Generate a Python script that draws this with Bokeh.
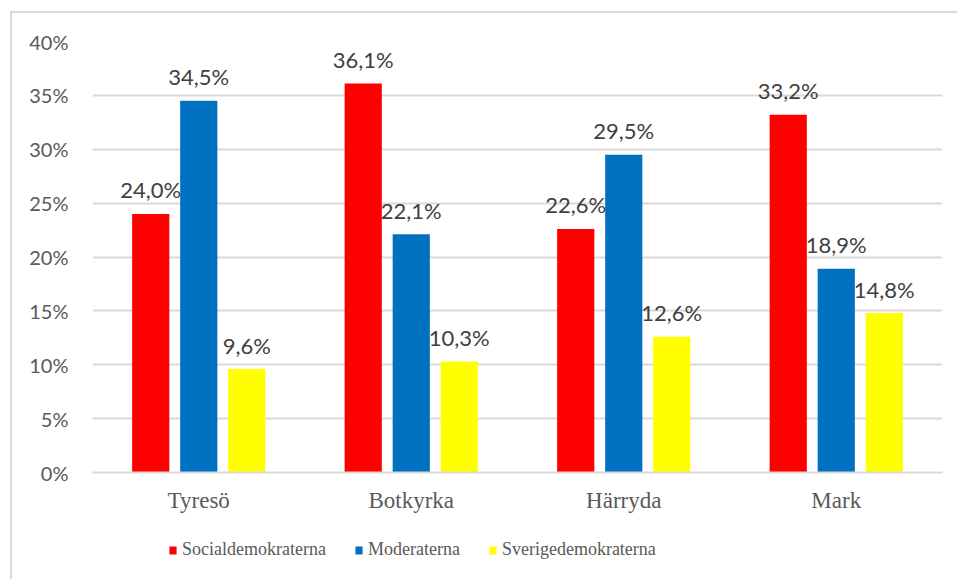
from bokeh.plotting import figure
from bokeh.layouts import column
from bokeh.models import ColumnDataSource, FactorRange, Range1d, FixedTicker, Legend, LegendItem, NumeralTickFormatter
from bokeh.transform import dodge
from bokeh.core.properties import value
from bokeh.embed import file_html
from bokeh.resources import INLINE

kommuner = ["Tyresö", "Botkyrka", "Härryda", "Mark"]
socialdemokraterna = [24.0, 36.1, 22.6, 33.2]
moderaterna = [34.5, 22.1, 29.5, 18.9]
sverigedemokraterna = [9.6, 10.3, 12.6, 14.8]
series_names = ["Socialdemokraterna", "Moderaterna", "Sverigedemokraterna"]
colors = ["#FF0000", "#0070C0", "#FFFF00"]
y_ticks = [0, 5, 10, 15, 20, 25, 30, 35, 40]

def fmt(v):
    return ("%.1f%%" % v).replace(".", ",")

src = ColumnDataSource(dict(
    x=kommuner,
    s=[v / 100 for v in socialdemokraterna],
    m=[v / 100 for v in moderaterna],
    d=[v / 100 for v in sverigedemokraterna],
    sl=[fmt(v) for v in socialdemokraterna],
    ml=[fmt(v) for v in moderaterna],
    dl=[fmt(v) for v in sverigedemokraterna],
))

p = figure(x_range=FactorRange(*kommuner, range_padding=0), y_range=Range1d(0, 0.40),
           width=945, height=507, output_backend="svg", toolbar_location=None,
           min_border_left=80, min_border_right=15, min_border_top=28, min_border_bottom=48)
p.outline_line_color = None
p.background_fill_color = "white"
p.border_fill_color = "white"

off = 0.226
w = 0.175
series = [("s", "sl", -off, colors[0]), ("m", "ml", 0, colors[1]), ("d", "dl", off, colors[2])]
for col, lab, o, c in series:
    p.vbar(x=dodge("x", o, range=p.x_range), top=col, width=w, source=src,
           fill_color=c, line_color=None)
    p.text(x=dodge("x", o, range=p.x_range), y=col, text=lab, source=src,
           text_align="center", text_baseline="alphabetic", y_offset=-24,
           text_font=value("Lato"), text_font_size="22px", text_color="#404040")

p.yaxis.ticker = FixedTicker(ticks=[t / 100 for t in y_ticks])
p.yaxis.formatter = NumeralTickFormatter(format="0%")
p.yaxis.axis_line_color = None
p.yaxis.major_tick_line_color = None
p.yaxis.minor_tick_line_color = None
p.yaxis.major_label_text_font = "Lato"
p.yaxis.major_label_text_font_size = "20px"
p.yaxis.major_label_text_color = "#595959"
p.yaxis.major_label_standoff = 18

p.xaxis.axis_line_color = "#d9d9d9"
p.xaxis.axis_line_width = 2
p.xaxis.major_tick_line_color = None
p.xaxis.minor_tick_line_color = None
p.xaxis.major_label_text_font = "Liberation Serif"
p.xaxis.major_label_text_font_size = "23px"
p.xaxis.major_label_text_color = "#595959"
p.xaxis.major_label_standoff = 9

p.xgrid.grid_line_color = None
p.ygrid.grid_line_color = "#d9d9d9"
p.ygrid.grid_line_width = 2

# legend strip (proxy bars fall below the visible range, only their legend swatches show)
lg = figure(width=945, height=59, x_range=FactorRange(*kommuner, range_padding=0), y_range=Range1d(1, 2),
            x_axis_type=None, y_axis_type=None, output_backend="svg", toolbar_location=None,
            min_border=0)
lg.outline_line_color = None
lg.xgrid.visible = False
lg.ygrid.visible = False
proxies = [lg.vbar(x=dodge("x", o, range=lg.x_range), top=col, width=w, source=src,
                   fill_color=c, line_color=None) for col, lab, o, c in series]
legend = Legend(items=[LegendItem(label=n, renderers=[r]) for n, r in zip(series_names, proxies)],
                orientation="horizontal", location=(76, 19),
                padding=0, margin=0, spacing=28, label_standoff=5,
                glyph_width=9, glyph_height=10,
                label_text_font="Liberation Serif", label_text_font_size="18px",
                label_text_color="#595959", border_line_color=None,
                background_fill_alpha=0)
lg.add_layout(legend, "center")

layout = column(p, lg, spacing=0)
layout.margin = (11, 0, 0, 10)
layout.styles = {"border-left": "2px solid #d9d9d9", "border-top": "2px solid #d9d9d9"}
open("out.html", "w").write(file_html(layout, INLINE))
